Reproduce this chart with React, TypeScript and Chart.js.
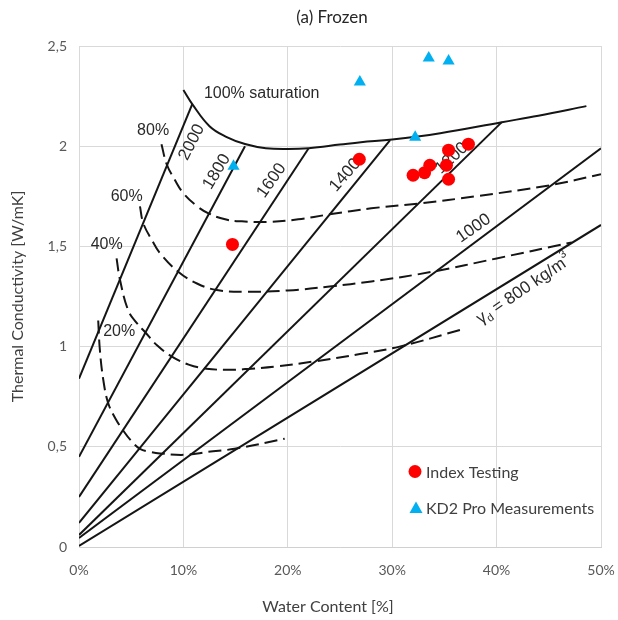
import React, { useEffect, useRef } from "react";
import { Chart, registerables } from "chart.js";

Chart.register(...registerables);

// ---- Axis ticks ----
const xTickLabels = ["0%", "10%", "20%", "30%", "40%", "50%"];
const yTickLabels = ["0", "0,5", "1", "1,5", "2", "2,5"];

// ---- Measured series ----
const indexTestingX = [14.7, 26.85, 32.0, 33.1, 33.6, 35.2, 35.4, 35.4, 37.3];
const indexTestingY = [1.51, 1.935, 1.855, 1.868, 1.905, 1.905, 1.98, 1.835, 2.01];

const kd2X = [14.8, 26.9, 32.2, 33.5, 35.4];
const kd2Y = [1.9, 2.32, 2.045, 2.44, 2.425];

// ---- Nomogram: dry density lines (kg/m3) ----
const densityNames = ["2000", "1800", "1600", "1400", "1200", "1000", "800"];
const densityStartX = [0, 0, 0, 0, 0, 0, 0];
const densityStartY = [0.84, 0.45, 0.25, 0.12, 0.06, 0.045, 0.005];
const densityEndX = [10.85, 15.9, 22.0, 29.8, 40.5, 50, 50];
const densityEndY = [2.21, 2.0, 1.99, 2.03, 2.12, 1.99, 1.607];

// ---- Nomogram: saturation curves ----
const sat100X = [10.0, 10.85, 12.5, 14.1, 15.9, 17.9, 20.0, 22.0, 25.0, 27.0, 30.0, 34.6, 40.5, 44.0, 48.6];
const sat100Y = [2.28, 2.21, 2.1, 2.047, 2.011, 1.99, 1.986, 1.99, 2.008, 2.02, 2.033, 2.065, 2.12, 2.152, 2.2];

const sat80X = [7.9, 8.4, 9.2, 10.0, 11.2, 12.4, 14.0, 15.6, 18.0, 21.0, 24.0, 28.0, 32.7, 38.0, 45.1, 50.0];
const sat80Y = [2.01, 1.91, 1.83, 1.765, 1.705, 1.665, 1.635, 1.625, 1.622, 1.635, 1.66, 1.69, 1.715, 1.75, 1.805, 1.86];

const sat60X = [5.84, 6.16, 7.0, 7.76, 9.5, 11.3, 13.2, 16.0, 20.0, 24.0, 28.0, 33.9, 40.0, 47.2];
const sat60Y = [1.7, 1.615, 1.53, 1.466, 1.374, 1.315, 1.282, 1.274, 1.28, 1.3, 1.325, 1.374, 1.44, 1.52];

const sat40X = [3.6, 3.93, 4.72, 5.5, 6.3, 7.5, 8.9, 10.5, 12.2, 14.5, 16.5, 18.8, 22.4, 26.9, 30.7, 36.5];
const sat40Y = [1.44, 1.332, 1.18, 1.12, 1.074, 1.005, 0.95, 0.91, 0.89, 0.884, 0.89, 0.9, 0.925, 0.963, 1.0, 1.083];

const sat20X = [1.84, 2.0, 2.33, 2.8, 3.5, 4.25, 5.0, 5.84, 6.8, 7.76, 10.15, 12.4, 14.9, 19.7];
const sat20Y = [1.13, 0.983, 0.833, 0.717, 0.64, 0.58, 0.53, 0.49, 0.475, 0.467, 0.46, 0.475, 0.49, 0.54];

// ---- Nomogram labels ----
const noteTexts = ["100% saturation", "80%", "60%", "40%", "20%", "2000", "1800", "1600", "1400", "1200", "1000"];
const noteX = [17.5, 7.1, 4.57, 2.65, 3.85, 10.8, 13.2, 18.45, 25.5, 35.7, 37.8];
const noteY = [2.265, 2.08, 1.748, 1.507, 1.075, 2.02, 1.873, 1.828, 1.856, 1.94, 1.59];
const noteAngle = [0, 0, 0, 0, 0, -63, -59, -55, -49, -43, -35];
const noteSize = [16, 16, 16, 16, 16, 17, 17, 17, 17, 17, 17];
// label of the 800 kg/m3 line, drawn as: γ + subscript d + " = 800 kg/m" + superscript 3
const densityLabelParts = ["γ", "d", " = 800 kg/m", "3"];
const densityLabelX = 42.6;
const densityLabelY = 1.285;
const densityLabelAngle = -34;

const FONT = "Lato, 'Open Sans', sans-serif";
const SCAN_FONT = "'Liberation Sans', Arial, sans-serif";

function pts(xs: number[], ys: number[]) {
  return xs.map((x, i) => ({ x, y: ys[i] }));
}

const lineBase = {
  type: "scatter" as const,
  showLine: true,
  pointRadius: 0,
  pointHoverRadius: 0,
  borderColor: "#151515",
  borderWidth: 2,
  fill: false,
};

const annotationPlugin = {
  id: "nomogramLabels",
  beforeDatasetsDraw(chart: any) {
    const { ctx, scales } = chart;
    const xs = scales.x;
    const ys = scales.y;
    ctx.save();
    ctx.fillStyle = "#2a2a2a";
    ctx.textAlign = "center";
    ctx.textBaseline = "middle";
    noteTexts.forEach((t, i) => {
      const px = xs.getPixelForValue(noteX[i]);
      const py = ys.getPixelForValue(noteY[i]);
      ctx.save();
      ctx.translate(px, py);
      ctx.rotate((noteAngle[i] * Math.PI) / 180);
      ctx.font = `${noteSize[i]}px ${SCAN_FONT}`;
      ctx.fillText(t, 0, 0);
      ctx.restore();
    });

    // γd = 800 kg/m³ with sub/superscripts
    const big = `17px ${SCAN_FONT}`;
    const small = `11px ${SCAN_FONT}`;
    const fonts = [big, small, big, small];
    const dy = [0, 5, 0, -7];
    const widths = densityLabelParts.map((p, i) => {
      ctx.font = fonts[i];
      return ctx.measureText(p).width;
    });
    const total = widths.reduce((a, b) => a + b, 0);
    ctx.save();
    ctx.translate(xs.getPixelForValue(densityLabelX), ys.getPixelForValue(densityLabelY));
    ctx.rotate((densityLabelAngle * Math.PI) / 180);
    ctx.textAlign = "left";
    let cx = -total / 2;
    densityLabelParts.forEach((p, i) => {
      ctx.font = fonts[i];
      ctx.fillText(p, cx, dy[i]);
      cx += widths[i];
    });
    ctx.restore();
    ctx.restore();
  },
};

const titlesPlugin = {
  id: "titlesAndLegend",
  afterDraw(chart: any) {
    const { ctx, chartArea } = chart;
    const cxMid = (chartArea.left + chartArea.right) / 2;
    ctx.save();
    // Chart title
    ctx.fillStyle = "#262626";
    ctx.textAlign = "center";
    ctx.textBaseline = "middle";
    ctx.font = `17px ${FONT}`;
    ctx.fillText("(a) Frozen", cxMid - 8, 18);
    // Axis titles
    ctx.fillStyle = "#404040";
    ctx.font = `16px ${FONT}`;
    ctx.fillText("Water Content [%]", cxMid - 12, 607);
    ctx.save();
    ctx.translate(18, (chartArea.top + chartArea.bottom) / 2);
    ctx.rotate(-Math.PI / 2);
    ctx.fillText("Thermal Conductivity [W/mK]", 0, 0);
    ctx.restore();

    // Legend
    const items = [
      { text: chart.data.datasets[0].label, color: "#ff0000", style: "circle", y: 471.5 },
      { text: chart.data.datasets[1].label, color: "#00b0f0", style: "triangle", y: 508 },
    ];
    ctx.textAlign = "left";
    ctx.font = `16px ${FONT}`;
    items.forEach((it) => {
      ctx.fillStyle = it.color;
      ctx.beginPath();
      if (it.style === "circle") {
        ctx.arc(415, it.y, 6.5, 0, Math.PI * 2);
      } else {
        ctx.moveTo(416, it.y - 6.5);
        ctx.lineTo(422.5, it.y + 5);
        ctx.lineTo(409.5, it.y + 5);
        ctx.closePath();
      }
      ctx.fill();
      ctx.fillStyle = "#404040";
      ctx.fillText(it.text, 426, it.y + 1);
    });
    ctx.restore();
  },
};

export default function App() {
  const ref = useRef<HTMLCanvasElement>(null);

  useEffect(() => {
    const canvas = ref.current;
    if (!canvas) return;
    document.body.style.margin = "0";
    document.body.style.overflow = "hidden";

    const densityDatasets = densityNames.map((name, i) => ({
      ...lineBase,
      label: `${name} kg/m3`,
      data: [
        { x: densityStartX[i], y: densityStartY[i] },
        { x: densityEndX[i], y: densityEndY[i] },
      ],
      tension: 0,
    }));

    const curve = (label: string, xs: number[], ys: number[], dashed: boolean) => ({
      ...lineBase,
      label,
      data: pts(xs, ys),
      tension: 0.4,
      borderDash: dashed ? [13, 6] : [],
    });

    const chart = new Chart(canvas, {
      type: "scatter",
      data: {
        datasets: [
          {
            label: "Index Testing",
            data: pts(indexTestingX, indexTestingY),
            backgroundColor: "#ff0000",
            borderColor: "#ff0000",
            pointStyle: "circle",
            pointRadius: 6.5,
            pointBorderWidth: 0,
          },
          {
            label: "KD2 Pro Measurements",
            data: pts(kd2X, kd2Y),
            backgroundColor: "#00b0f0",
            borderColor: "#00b0f0",
            pointStyle: "triangle",
            pointRadius: 7,
            pointBorderWidth: 0,
          },
          curve("100% saturation", sat100X, sat100Y, false),
          curve("80%", sat80X, sat80Y, true),
          curve("60%", sat60X, sat60Y, true),
          curve("40%", sat40X, sat40Y, true),
          curve("20%", sat20X, sat20Y, true),
          ...densityDatasets,
        ] as any,
      },
      options: {
        responsive: false,
        animation: false,
        layout: { autoPadding: false, padding: { top: 46, left: 0, right: 17, bottom: 0 } },
        plugins: {
          legend: { display: false },
          title: { display: false },
          tooltip: { enabled: false },
        },
        scales: {
          x: {
            type: "linear",
            min: 0,
            max: 50,
            ticks: {
              stepSize: 10,
              padding: 15,
              color: "#595959",
              font: { family: FONT, size: 14 },
              callback: (_v: any, i: number) => xTickLabels[i],
            },
            grid: { color: "#d9d9d9", drawTicks: false, lineWidth: 1 },
            border: { color: "#d0d0d0" },
            afterFit: (s: any) => {
              s.height = 73;
              s.paddingLeft = 0;
              s.paddingRight = 0;
            },
          },
          y: {
            type: "linear",
            min: 0,
            max: 2.5,
            ticks: {
              stepSize: 0.5,
              padding: 12,
              color: "#595959",
              font: { family: FONT, size: 14 },
              callback: (_v: any, i: number) => yTickLabels[i],
            },
            grid: { color: "#d9d9d9", drawTicks: false, lineWidth: 1 },
            border: { color: "#d9d9d9" },
            afterFit: (s: any) => {
              s.width = 79;
              s.paddingTop = 0;
              s.paddingBottom = 0;
            },
          },
        },
      } as any,
      plugins: [annotationPlugin, titlesPlugin],
    });

    return () => chart.destroy();
  }, []);

  return (
    <canvas
      ref={ref}
      width={618}
      height={620}
      style={{ display: "block", width: 618, height: 620 }}
    />
  );
}
